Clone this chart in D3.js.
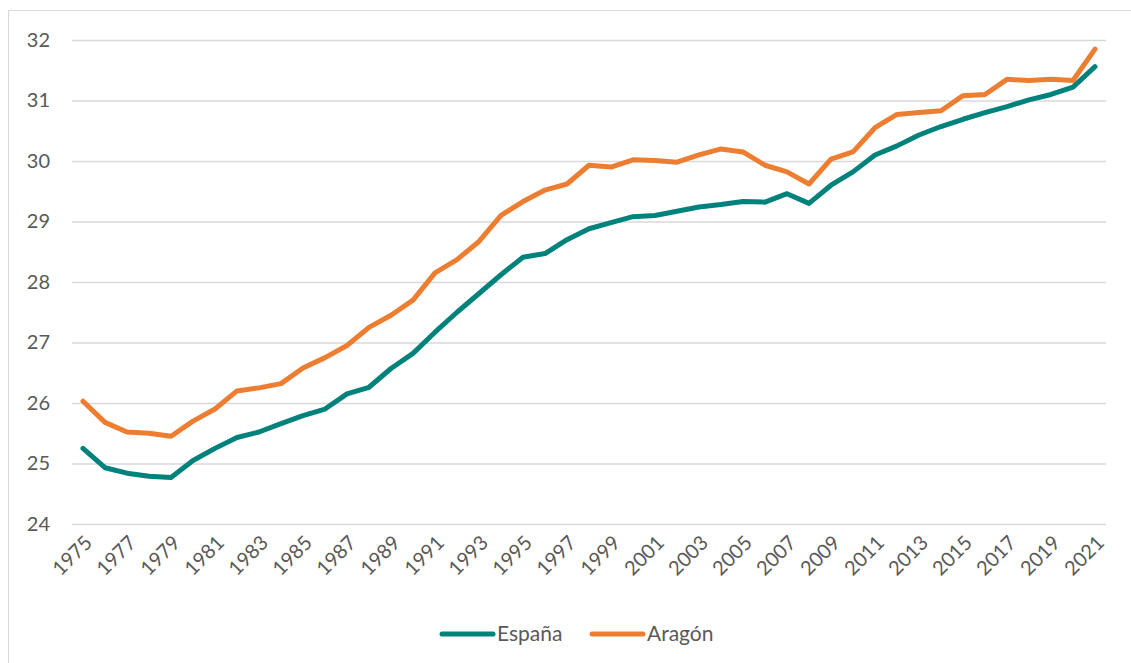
<!DOCTYPE html>
<html>
<head>
<meta charset="utf-8">
<script src="https://cdn.jsdelivr.net/npm/d3@7"></script>
<style>
  html, body { margin: 0; padding: 0; background: #fff; }
  svg { display: block; }
  text { font-family: Lato, "Open Sans", sans-serif; fill: #595959; }
</style>
</head>
<body>
<svg id="chart" width="1131" height="663"></svg>
<script>
const years = d3.range(1975, 2022);
const espana = [25.25, 24.93, 24.84, 24.79, 24.77, 25.05, 25.25, 25.43, 25.52, 25.66,
  25.79, 25.90, 26.15, 26.26, 26.57, 26.82, 27.17, 27.50, 27.81, 28.12,
  28.41, 28.47, 28.70, 28.88, 28.98, 29.08, 29.10, 29.17, 29.24, 29.28,
  29.33, 29.32, 29.46, 29.30, 29.60, 29.82, 30.10, 30.25, 30.43, 30.57,
  30.69, 30.80, 30.90, 31.01, 31.10, 31.22, 31.56];
const aragon = [26.03, 25.68, 25.52, 25.50, 25.45, 25.70, 25.90, 26.20, 26.25, 26.32,
  26.58, 26.75, 26.95, 27.25, 27.45, 27.70, 28.15, 28.37, 28.67, 29.10,
  29.33, 29.52, 29.62, 29.93, 29.90, 30.02, 30.01, 29.98, 30.10, 30.20,
  30.15, 29.93, 29.82, 29.62, 30.03, 30.15, 30.55, 30.77, 30.80, 30.83,
  31.08, 31.10, 31.35, 31.33, 31.35, 31.33, 31.85];
const yTicks = [24, 25, 26, 27, 28, 29, 30, 31, 32];
const xTickYears = years.filter((y, i) => i % 2 === 0);
const seriesNames = ["España", "Aragón"];
const seriesColors = ["#00827C", "#ED7D31"];

const svg = d3.select("#chart");

// outer chart border
svg.append("rect")
  .attr("x", 8.5).attr("y", 10.5)
  .attr("width", 1140).attr("height", 670)
  .attr("fill", "none").attr("stroke", "#d9d9d9").attr("stroke-width", 1);

const plotLeft = 72, plotRight = 1106, plotTop = 40, plotBottom = 524;

const x = d3.scalePoint().domain(years).range([plotLeft, plotRight]).padding(0.5);
const y = d3.scaleLinear().domain([24, 32]).range([plotBottom, plotTop]);

// gridlines
const yAxis = d3.axisLeft(y).tickValues(yTicks).tickSize(-(plotRight - plotLeft)).tickPadding(22).tickFormat(d3.format("d"));
const gY = svg.append("g").attr("transform", `translate(${plotLeft},0)`).call(yAxis);
gY.select(".domain").remove();
gY.selectAll(".tick line").attr("stroke", "#d9d9d9").attr("stroke-width", 1.5);
gY.selectAll(".tick text").style("font-size", "20px").attr("fill", "#595959");

// x axis labels
const xAxis = d3.axisBottom(x).tickValues(xTickYears).tickSize(0).tickPadding(0);
const gX = svg.append("g").attr("transform", `translate(0,${plotBottom})`).call(xAxis);
gX.select(".domain").remove();
gX.selectAll(".tick text")
  .style("font-size", "20px")
  .attr("fill", "#595959")
  .attr("text-anchor", "end")
  .attr("dy", null)
  .attr("y", 0)
  .attr("transform", "translate(10,20) rotate(-45)");

// lines
const line = d3.line().x((d, i) => x(years[i])).y(d => y(d));
[espana, aragon].forEach((s, k) => {
  svg.append("path")
    .datum(s)
    .attr("fill", "none")
    .attr("stroke", seriesColors[k])
    .attr("stroke-width", 5)
    .attr("stroke-linejoin", "round")
    .attr("stroke-linecap", "round")
    .attr("d", line);
});

// legend
const legend = svg.append("g");
const legendItems = [{x: 440}, {x: 590}];
seriesNames.forEach((name, k) => {
  const lx = legendItems[k].x;
  legend.append("line")
    .attr("x1", lx + 2).attr("x2", lx + 53)
    .attr("y1", 634).attr("y2", 634)
    .attr("stroke", seriesColors[k]).attr("stroke-width", 5)
    .attr("stroke-linecap", "round");
  legend.append("text")
    .attr("x", lx + 57).attr("y", 641)
    .style("font-size", "21px")
    .text(name);
});
</script>
</body>
</html>
